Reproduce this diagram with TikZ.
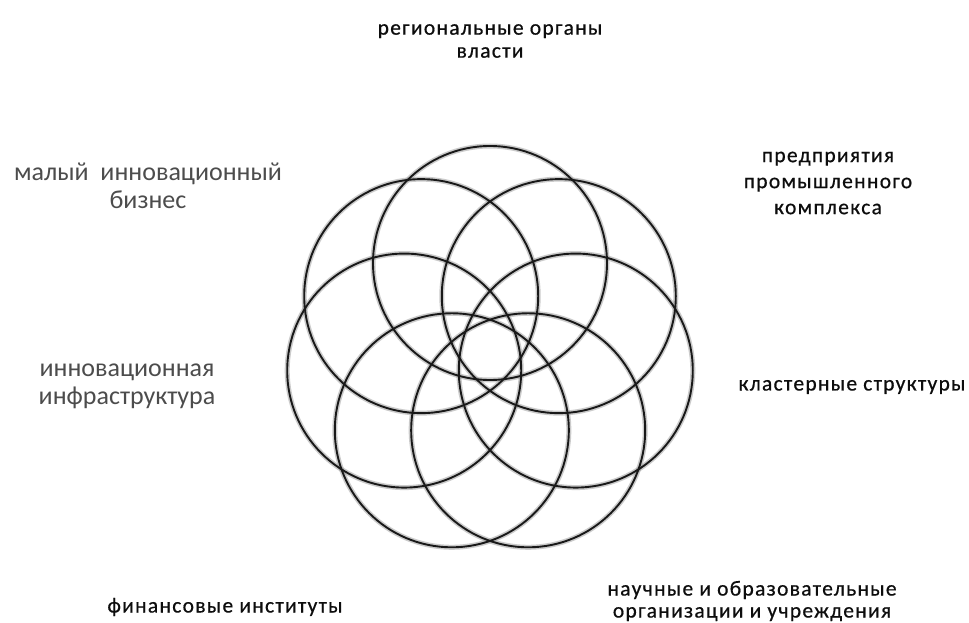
\documentclass[tikz,border=0pt]{standalone}
\usepackage{fontspec}
\setmainfont{Carlito}
\newfontfamily\spaced[LetterSpace=6,FakeBold=0.6]{Carlito}
\newfontfamily\plain{Carlito}
\usetikzlibrary{calc}
\pgfdeclareradialshading{glow}{\pgfpoint{0bp}{0bp}}{color(0bp)=(white); color(36bp)=(white); color(50bp)=(black!35)}
\tikzset{
  ring/.style={draw=black!90, line width=1.9pt},
  halo/.style={draw=black!40, line width=5pt, opacity=0.5},
  darklab/.style={text=black!95, align=center, font=\spaced\fontsize{21.5}{26}\selectfont, inner sep=0pt},
  greylab/.style={text=black!70, align=center, font=\plain\fontsize{26}{28}\selectfont, inner sep=0pt},
}
\begin{document}
\begin{tikzpicture}[x=1pt,y=-1pt]
\useasboundingbox (0,0) rectangle (969,623);
\fill[white] (0,0) rectangle (969,623);
\coordinate (O) at (490,351);
\foreach \i in {0,...,6}{
  \coordinate (c\i) at ($(O)+({-90+\i*360/7}:88)$);
}
\foreach \i in {0,...,6}{
  \shade[shading=glow, fill opacity=0.45] (c\i) circle[radius=117pt];
}
\foreach \i in {0,...,6}{
  \draw[halo] (c\i) circle[radius=117pt];
}
\foreach \i in {0,...,6}{
  \draw[ring] (c\i) circle[radius=117pt];
}
\node[darklab, font=\spaced\fontsize{21.5}{23}\selectfont] (reg) at (490,41) {региональные органы\\власти};
\node[greylab] (small) at (148,186) {малый\ \ инновационный\\бизнес};
\node[darklab] (ind) at (828,183) {предприятия\\промышленного\\комплекса};
\node[greylab] (infra) at (127,386) {инновационная\\инфраструктура};
\node[darklab] (clus) at (852,387) {кластерные структуры};
\node[darklab] (fin) at (225,607) {финансовые институты};
\node[darklab, font=\spaced\fontsize{21.5}{22}\selectfont] (sci) at (752,601) {научные и образовательные\\организации и учреждения};
\end{tikzpicture}
\end{document}
